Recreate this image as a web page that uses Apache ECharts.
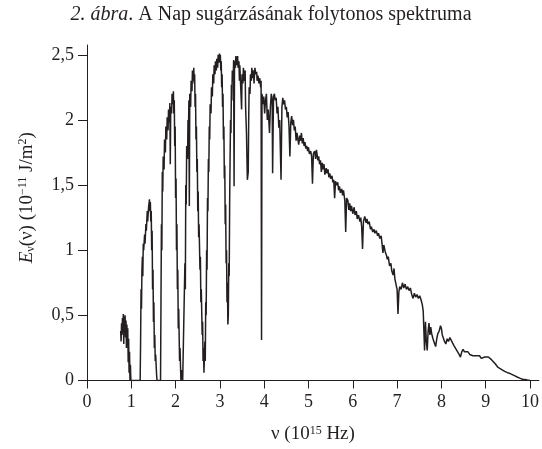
<!DOCTYPE html>
<html><head><meta charset="utf-8">
<script src="https://cdn.jsdelivr.net/npm/echarts@6/dist/echarts.min.js"></script>
<style>html,body{margin:0;padding:0;background:#fff}#c{width:542px;height:449px}</style>
</head><body><div id="c"></div>
<script>
var xTicks = [0,1,2,3,4,5,6,7,8,9,10];
var yTicks = [0,0.5,1,1.5,2,2.5];
var nu = [
0.76,0.77,0.78,0.79,0.80,0.81,0.82,0.83,0.84,0.85,0.86,0.87,0.88,0.89,0.90,0.91,0.92,0.93,0.94,0.95,0.96,0.97,0.98,0.99,1.20,
1.21,1.22,1.23,1.24,1.25,1.26,1.27,1.28,1.30,1.31,1.33,1.34,1.36,1.37,1.39,1.41,1.42,1.43,1.44,1.45,1.46,1.47,1.48,1.49,1.50,1.51,1.52,1.53,1.54,1.55,1.57,1.58,1.66,
1.67,1.68,1.69,1.70,1.71,1.72,1.74,1.75,1.77,1.78,1.80,1.81,1.83,1.84,1.86,1.87,1.88,1.89,1.91,1.92,1.94,1.95,1.96,1.97,1.98,1.99,2.00,2.01,2.02,2.03,2.04,2.05,2.06,2.07,2.09,2.10,2.12,2.14,2.16,2.20,
2.21,2.22,2.23,2.24,2.25,2.27,2.28,2.29,2.30,2.31,2.32,2.34,2.35,2.37,2.38,2.40,2.41,2.42,2.43,2.44,2.45,2.46,2.47,2.48,2.49,2.50,2.51,2.52,2.53,2.55,2.56,2.57,2.58,2.60,2.61,2.62,2.63,2.64,
2.66,2.67,2.68,2.69,2.70,2.71,2.72,2.73,2.74,2.75,2.76,2.77,2.78,2.80,2.81,2.83,2.84,2.86,2.87,2.89,2.90,2.92,2.93,2.95,2.96,2.98,2.99,3.00,3.01,3.02,3.03,3.04,3.05,3.06,3.07,3.08,3.09,3.10,3.11,3.12,3.13,3.14,3.15,3.16,3.17,3.18,
3.19,3.20,3.21,3.22,3.23,3.24,3.25,3.26,3.27,3.28,3.30,3.31,3.32,3.33,3.35,3.36,3.38,3.40,3.41,3.43,3.44,3.45,3.47,3.49,3.50,3.52,3.53,3.55,3.57,3.58,3.60,3.62,3.64,3.65,3.66,3.68,3.69,3.71,3.72,3.74,3.76,3.77,3.79,3.81,3.83,3.84,3.86,3.88,3.90,3.92,3.93,3.94,3.95,3.97,
3.99,4.01,4.03,4.05,4.07,4.09,4.12,4.14,4.16,4.18,4.19,4.21,4.23,4.25,4.27,4.29,4.31,4.33,4.35,4.38,4.40,4.42,4.44,4.46,4.48,4.50,4.52,4.54,4.56,4.58,4.60,4.62,4.64,4.66,4.68,4.70,4.72,4.74,4.76,4.78,4.80,4.82,4.84,4.86,4.88,4.90,4.92,4.94,4.96,4.98,5.00,5.02,5.05,5.07,5.09,
5.11,5.14,5.16,5.18,5.21,5.23,5.25,5.27,5.29,5.31,5.33,5.35,5.37,5.40,5.42,5.44,5.46,5.48,5.50,5.53,5.55,5.57,5.59,5.61,5.63,5.66,5.68,5.70,5.72,5.75,5.77,5.79,5.82,5.84,5.86,5.89,5.91,5.93,5.95,5.97,
6.00,6.03,6.05,6.08,6.10,6.13,6.16,6.18,6.20,6.22,6.24,6.27,6.30,6.32,6.34,6.37,6.40,6.42,6.45,6.48,6.50,6.53,6.56,6.58,6.61,6.64,6.66,6.68,6.70,6.73,6.76,6.78,6.80,6.83,6.86,6.88,6.91,6.93,6.95,6.98,
7.00,7.02,7.04,7.06,7.09,7.12,7.15,7.18,7.21,7.24,7.27,7.30,7.33,7.36,7.39,7.42,7.45,7.48,7.51,7.54,7.57,7.59,7.60,7.62,7.64,7.66,7.68,7.70,7.72,7.74,7.76,7.78,7.81,7.84,7.87,7.90,7.92,7.95,7.98,
8.00,8.02,8.04,8.07,8.10,8.13,8.16,8.19,8.22,8.25,8.28,8.30,8.33,8.37,8.40,8.43,8.46,8.49,8.52,8.56,8.60,8.64,8.68,8.71,8.75,8.79,8.83,8.86,8.90,8.94,8.98,
9.02,9.06,9.09,9.13,9.17,9.21,9.24,9.28,9.32,9.38,9.43,9.49,9.54,9.60,9.66,9.72,9.77,9.83,9.88,9.94,10.00
];
var E = [
0.38,0.30,0.44,0.35,0.48,0.40,0.51,0.28,0.49,0.42,0.50,0.33,0.46,0.25,0.43,0.30,0.40,0.14,0.32,0.06,0.22,0.00,0.12,0.00,0.00,
0.30,0.70,0.55,0.85,0.95,0.80,1.05,1.00,1.12,1.05,1.20,1.15,1.30,1.22,1.33,1.39,1.30,1.37,1.22,1.30,1.00,1.15,0.70,0.85,0.45,0.60,0.25,0.35,0.15,0.20,0.05,0.00,0.00,
0.60,1.20,1.00,1.60,1.45,1.72,1.62,1.85,1.75,1.95,1.85,2.02,1.92,2.08,1.98,2.13,1.66,2.10,2.05,2.20,2.12,2.22,2.05,2.15,1.80,1.95,1.40,1.55,1.00,1.20,0.70,0.85,0.40,0.55,0.15,0.25,0.00,0.08,0.00,0.00,
0.90,0.70,1.50,1.35,1.80,1.70,2.00,1.90,2.15,1.34,2.20,2.10,2.30,2.22,2.38,2.30,2.40,2.28,2.35,2.10,2.20,1.85,1.95,1.60,1.70,1.30,1.45,1.10,1.20,0.85,0.95,0.60,0.70,0.35,0.45,0.15,0.25,0.06,
0.30,0.15,0.60,0.50,1.00,0.85,1.40,1.30,1.70,1.60,1.95,1.85,2.12,2.05,2.25,2.18,2.35,2.28,2.42,2.35,2.45,2.38,2.47,2.40,2.50,2.44,2.51,2.45,2.50,2.38,2.45,2.25,2.35,2.10,2.20,1.85,1.95,1.55,1.65,1.20,1.35,0.90,1.00,0.60,0.75,0.43,
0.50,0.90,0.80,1.36,1.70,2.00,1.90,2.27,2.15,2.38,2.30,2.46,1.49,2.45,2.40,2.49,2.42,2.49,2.40,2.45,2.30,2.42,2.25,2.08,2.35,2.28,2.40,2.30,2.38,2.10,1.90,1.54,1.60,2.00,2.25,2.20,2.35,2.30,2.40,2.32,2.38,2.28,2.40,2.35,2.37,2.30,2.34,2.28,2.32,2.25,2.30,0.31,2.20,2.12,
2.18,2.05,2.15,2.20,2.00,2.08,1.90,2.10,2.20,2.15,1.59,2.18,2.20,2.15,2.17,2.05,2.10,1.94,2.00,1.54,2.10,2.17,2.12,2.15,2.08,2.10,2.02,2.06,1.95,1.72,1.98,2.03,1.96,2.00,1.92,1.95,1.84,1.90,1.85,1.81,1.88,1.84,1.90,1.82,1.86,1.80,1.83,1.78,1.80,1.76,1.79,1.74,1.76,1.72,1.51,
1.74,1.76,1.70,1.77,1.69,1.72,1.66,1.69,1.60,1.67,1.62,1.66,1.58,1.63,1.59,1.62,1.56,1.59,1.55,1.57,1.52,1.54,1.40,1.53,1.50,1.52,1.46,1.49,1.44,1.47,1.42,1.46,1.38,1.14,1.40,1.38,1.31,1.36,1.30,1.34,
1.28,1.33,1.27,1.30,1.24,1.27,1.22,1.25,1.18,1.01,1.22,1.26,1.21,1.24,1.20,1.22,1.16,1.18,1.14,1.16,1.13,1.15,1.11,1.13,1.09,1.11,1.05,0.98,1.04,0.99,0.96,0.93,0.95,0.88,0.90,0.84,0.81,0.86,0.78,0.73,
0.70,0.51,0.68,0.72,0.70,0.75,0.71,0.74,0.70,0.72,0.69,0.71,0.66,0.63,0.67,0.64,0.66,0.63,0.65,0.62,0.58,0.53,0.43,0.23,0.45,0.30,0.23,0.38,0.44,0.35,0.41,0.36,0.32,0.29,0.26,0.33,0.36,0.38,0.42,
0.40,0.35,0.33,0.30,0.28,0.32,0.30,0.33,0.31,0.30,0.27,0.26,0.24,0.23,0.20,0.18,0.22,0.24,0.22,0.21,0.22,0.20,0.21,0.19,0.20,0.19,0.18,0.19,0.17,0.17,0.18,
0.17,0.18,0.17,0.16,0.155,0.13,0.12,0.10,0.09,0.08,0.07,0.06,0.055,0.045,0.035,0.025,0.018,0.010,0.007,0.003,0.00
];
var ink = '#231f20';
var serif = '"Liberation Serif","DejaVu Serif",serif';
var pts = nu.map(function(v,i){return [v,E[i]];});
var chart = echarts.init(document.getElementById('c'));
chart.setOption({
  animation:false,
  backgroundColor:'#fff',
  title:{
    text:'{i|2. ábra}. A Nap sugárzásának folytonos spektruma',
    left:'center', top:0,
    textStyle:{fontFamily:serif,fontSize:20,fontWeight:'normal',color:ink,
      rich:{i:{fontFamily:serif,fontSize:20,fontStyle:'italic',color:ink}}}
  },
  grid:{left:87,right:2,top:45,bottom:62,containLabel:false},
  xAxis:{
    type:'value',min:0,max:10.2,
    name:'ν (10{sup|15} Hz)',nameLocation:'middle',nameGap:44,
    nameTextStyle:{fontFamily:serif,fontSize:19,color:ink,
      rich:{sup:{fontFamily:serif,fontSize:12,color:ink,verticalAlign:'top',padding:[0,0,8,0]}}},
    axisLine:{lineStyle:{color:ink,width:1}},
    axisTick:{show:true,inside:false,length:8,lineStyle:{color:ink},customValues:xTicks},
    axisLabel:{fontFamily:serif,fontSize:18,color:ink,margin:13,customValues:xTicks},
    splitLine:{show:false}
  },
  yAxis:{
    type:'value',min:0,max:2.575,
    name:'{i|E}{sub|ν}(ν) (10{sup|−11} J/m{sup|2})',nameLocation:'middle',nameGap:50,nameRotate:90,
    nameTextStyle:{fontFamily:serif,fontSize:19,color:ink,padding:[0,0,0,30],
      rich:{i:{fontFamily:serif,fontSize:19,fontStyle:'italic',color:ink},
            sub:{fontFamily:serif,fontSize:12,color:ink,verticalAlign:'bottom'},
            sup:{fontFamily:serif,fontSize:12,color:ink,verticalAlign:'top',padding:[0,0,8,0]}}},
    axisLine:{show:true,lineStyle:{color:ink,width:1}},
    axisTick:{show:true,inside:false,length:9,lineStyle:{color:ink},customValues:yTicks},
    axisLabel:{fontFamily:serif,fontSize:18,color:ink,margin:13,customValues:yTicks,
      formatter:function(v){return String(v).replace('.',',');}},
    splitLine:{show:false}
  },
  series:[{
    type:'line',data:pts,showSymbol:false,symbol:'none',
    lineStyle:{color:ink,width:1.5},
    emphasis:{disabled:true}
  }]
});
</script>
</body></html>
